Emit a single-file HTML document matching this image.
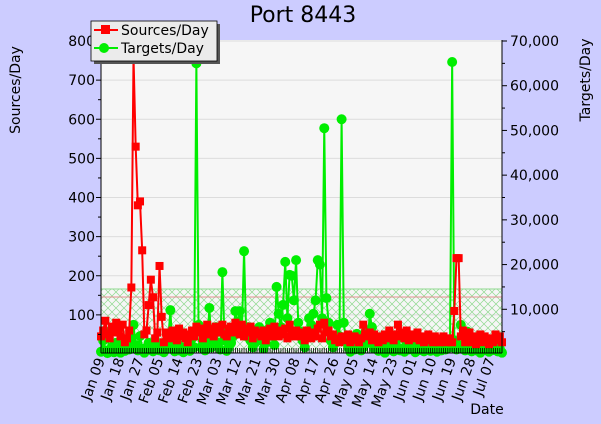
<!DOCTYPE html>
<html><head><meta charset="utf-8"><style>
html,body{margin:0;padding:0;background:#ccccff;}
svg{display:block;font-family:"DejaVu Sans","Liberation Sans",sans-serif;}
</style></head><body>
<svg id="chart" width="601" height="424" viewBox="0 0 601 424">
<defs>
<pattern id="hatch" width="8" height="8" patternUnits="userSpaceOnUse">
<path d="M0,0 L8,8 M8,0 L0,8" stroke="#8fd88f" stroke-width="0.7" fill="none"/>
</pattern>
</defs>
<rect x="0" y="0" width="601" height="424" fill="#ccccff"/>
<text x="303" y="22" font-size="22" text-anchor="middle" fill="#000">Port 8443</text>
<rect x="101" y="40" width="401" height="313" fill="#f6f6f6"/>
<g id="grid"></g>
<rect x="101" y="289" width="401" height="64" fill="url(#hatch)"/>
<line x1="101" y1="289" x2="502" y2="289" stroke="#8fd88f" stroke-width="1"/>
<line x1="101" y1="297" x2="502" y2="297" stroke="#e09090" stroke-width="1"/>
<g id="series"></g>
<g id="axes"></g>
<text transform="translate(20,90) rotate(-90)" font-size="14" text-anchor="middle">Sources/Day</text>
<text transform="translate(590,80) rotate(-90)" font-size="14" text-anchor="middle">Targets/Day</text>
<text x="487" y="414" font-size="14" text-anchor="middle">Date</text>
<g>
<rect x="94" y="24" width="126" height="40" fill="#555"/>
<rect x="91" y="21" width="126" height="40" fill="#ebebeb" stroke="#000" stroke-width="0.8"/>
<line x1="94" y1="30" x2="118" y2="30" stroke="#ff0000" stroke-width="2"/>
<rect x="101" y="25" width="9" height="9" fill="#ff0000"/>
<text x="121" y="35" font-size="14">Sources/Day</text>
<line x1="94" y1="48" x2="118" y2="48" stroke="#00ee00" stroke-width="2"/>
<circle cx="104" cy="48" r="5" fill="#00ee00"/>
<text x="121" y="53" font-size="14">Targets/Day</text>
</g>
</svg>
<script>
const sources = [
45,60,85,50,40,70,55,80,60,45,
75,30,40,60,170,760,530,380,390,265,
50,60,125,190,145,40,55,225,95,30,
55,45,40,60,50,35,65,45,55,40,
30,50,60,45,70,55,65,40,60,75,
50,65,45,70,60,55,75,50,45,65,
70,55,80,60,50,75,45,65,55,70,
40,60,50,55,45,60,35,50,65,45,
70,55,45,60,50,65,40,75,55,45,
60,50,45,55,35,60,50,40,55,45,
65,75,40,80,55,60,45,50,35,40,
30,45,35,40,50,30,35,45,40,30,
40,75,50,45,55,35,50,40,30,45,
35,50,40,60,45,35,50,75,45,55,
40,60,35,45,50,40,55,35,45,30,
40,50,35,30,45,40,30,35,45,30,
35,40,30,110,245,245,45,60,30,40,
55,30,45,25,40,50,30,45,35,25,
40,30,50,35,45,30];
const targets = [
500,3000,800,200,5000,1500,400,2500,600,300,
2000,700,1500,1000,3500,6500,2000,800,4000,1200,
300,900,2500,1500,600,3000,1000,800,2000,400,
1500,3000,9800,1200,600,2500,800,1500,400,1000,
2000,700,3500,1500,65000,6500,1500,3000,800,2500,
10300,1500,4000,6000,2500,1000,18300,3000,700,1500,
2500,4000,9600,7000,9600,5000,23000,4000,6000,3000,
1500,2500,4500,6000,3000,1200,2500,5500,7000,4000,
2000,15000,9000,6000,11000,20600,8000,17700,17500,12000,
21000,7000,5000,3000,1500,4000,8000,6500,9000,12000,
21000,20000,8000,50500,12500,7000,3000,1500,2500,6500,
4000,52500,7000,3000,1500,500,2000,1000,4500,3000,
800,1500,5000,2500,9000,6000,1200,3000,700,2000,
1500,300,2500,4000,1000,600,2000,3500,800,1200,
500,2500,1000,3500,1500,400,2000,900,3000,600,
1200,2500,700,1800,3000,500,1500,800,2500,1000,
3000,1500,65300,3000,1000,1200,6500,2000,800,5000,
1500,600,2500,800,1000,300,2000,1200,800,500,
2500,900,1500,600,1200,300];
const dateLabels = ["Jan 09","Jan 18","Jan 27","Feb 05","Feb 14","Feb 23","Mar 03","Mar 12","Mar 21","Mar 30","Apr 08","Apr 17","Apr 26","May 05","May 14","May 23","Jun 01","Jun 10","Jun 19","Jun 28","Jul 07"];
const leftTicks = [100,200,300,400,500,600,700,800];
const rightTicks = [10000,20000,30000,40000,50000,60000,70000];

const NS = "http://www.w3.org/2000/svg";
const X0 = 101, X1 = 502, Y0 = 354, LTOP = 41;
const nDays = 185;
function xs(d){ return X0 + d * (X1 - X0) / nDays; }
function yl(v){ return Y0 - v * (Y0 - LTOP) / 800; }
function yr(v){ return Y0 - v * (Y0 - LTOP) / 70000; }
function mk(tag, attrs, parent){
  const e = document.createElementNS(NS, tag);
  for (const k in attrs) e.setAttribute(k, attrs[k]);
  parent.appendChild(e);
  return e;
}
const grid = document.getElementById('grid');
const axes = document.getElementById('axes');
const series = document.getElementById('series');

leftTicks.forEach(v => {
  const g = mk('line', {x1:X0, x2:X1, y1:yl(v), y2:yl(v), stroke:'#dcdcdc', 'stroke-width':1}, grid);
  
  
  const t = mk('line', {x1:X0-5, x2:X0, y1:yl(v), y2:yl(v), stroke:'#000'}, axes);
  
  
  mk('line', {x1:X0-3, x2:X0, y1:yl(v-50), y2:yl(v-50), stroke:'#000'}, axes);
  const l = mk('text', {x:X0-6, y:yl(v)+5, 'font-size':14, 'text-anchor':'end'}, axes);
  l.textContent = v;
  
  
});
rightTicks.forEach(v => {
  const t = mk('line', {x1:X1, x2:X1+5, y1:yr(v), y2:yr(v), stroke:'#000'}, axes);
  
  
  mk('line', {x1:X1, x2:X1+3, y1:yr(v-5000), y2:yr(v-5000), stroke:'#000'}, axes);
  const l = mk('text', {x:X1+8, y:yr(v)+5, 'font-size':14}, axes);
  l.textContent = v.toLocaleString('en-US');
  
  
});
mk('line', {x1:X0, x2:X0, y1:40, y2:353, stroke:'#000'}, axes);
mk('line', {x1:X1, x2:X1, y1:40, y2:353, stroke:'#000'}, axes);
mk('line', {x1:X0, x2:X1, y1:353, y2:353, stroke:'#000'}, axes);
for (let d = 0; d <= nDays; d++) {
  mk('line', {x1:xs(d), x2:xs(d), y1:353, y2:348, stroke:'#000', 'stroke-width':0.8}, axes);
}
dateLabels.forEach((s, i) => {
  const x = xs(i * 9);
  const t = mk('text', {transform:`translate(${x+4},360) rotate(-70)`, 'font-size':14, 'text-anchor':'end'}, axes);
  t.textContent = s;
  
  
});

// targets series (green) drawn first
let pg = targets.map((v, i) => `${xs(i)},${yr(v)}`).join(' ');
const tl = mk('polyline', {points:pg, fill:'none', stroke:'#00ee00', 'stroke-width':2}, series);


targets.forEach((v, i) => {
  const c = mk('circle', {cx:xs(i), cy:yr(v), r:5, fill:'#00ee00'}, series);
  
  
});
let ps = sources.map((v, i) => `${xs(i)},${yl(v)}`).join(' ');
const sl = mk('polyline', {points:ps, fill:'none', stroke:'#ff0000', 'stroke-width':2}, series);


sources.forEach((v, i) => {
  const r = mk('rect', {x:xs(i)-4, y:yl(v)-4, width:8, height:8, fill:'#ff0000'}, series);
  
  
});
</script>
</body></html>
